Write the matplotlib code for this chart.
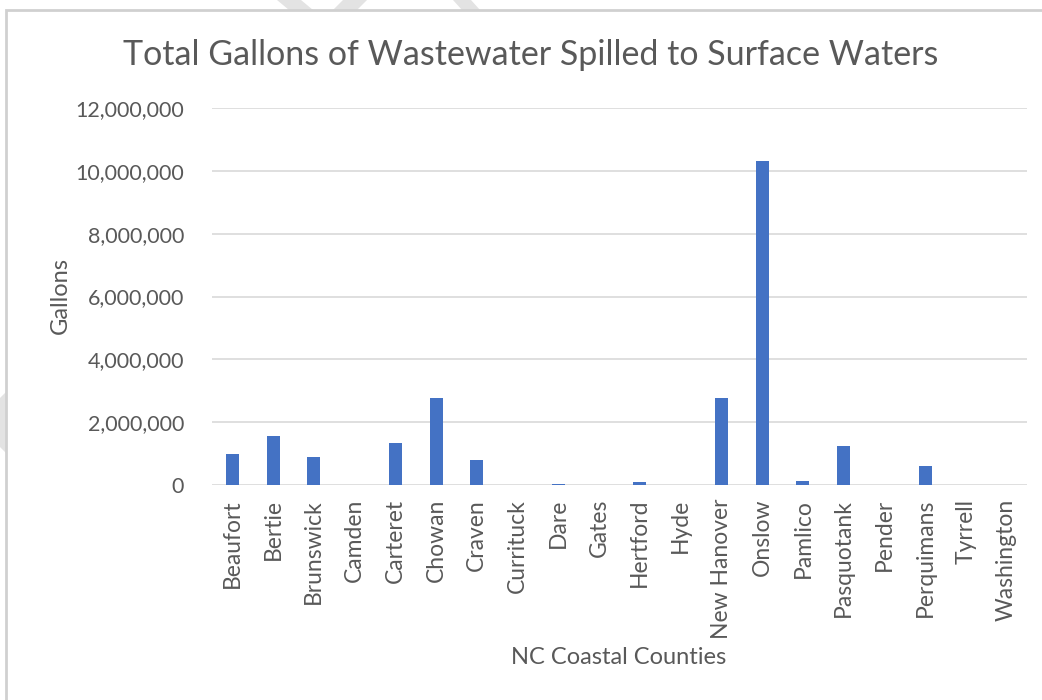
import matplotlib.pyplot as plt
from matplotlib.patches import Rectangle, Polygon
from matplotlib.ticker import FuncFormatter

# Datos (galones por condado)
counties = ["Beaufort", "Bertie", "Brunswick", "Camden", "Carteret", "Chowan",
            "Craven", "Currituck", "Dare", "Gates", "Hertford", "Hyde",
            "New Hanover", "Onslow", "Pamlico", "Pasquotank", "Pender",
            "Perquimans", "Tyrrell", "Washington"]
gallons = [1000000, 1560000, 890000, 0, 1350000, 2760000,
           800000, 0, 40000, 0, 110000, 0,
           2770000, 10300000, 120000, 1230000, 0,
           590000, 0, 8000]

title = "Total Gallons of Wastewater Spilled to Surface Waters"
x_label = "NC Coastal Counties"
y_label = "Gallons"

text_color = "#595959"
grid_color = "#d9d9d9"
bar_color = "#4472C4"

plt.rcParams["font.family"] = ["Lato", "DejaVu Sans"]

W, H = 1042, 700
fig = plt.figure(figsize=(W / 100, H / 100), dpi=100)

# marcas decorativas grises de fondo (fuera del marco)
deco = [
    [(277, 0), (301, 0), (313, 10), (289, 10)],
    [(333, 10), (357, 10), (367, 0), (343, 0)],
    [(453, 0), (471, 0), (480, 10), (462, 10)],
    [(0, 398), (6, 392), (6, 453), (0, 447)],
]
for pts in deco:
    fig.patches.append(Polygon([(x / W, 1 - y / H) for x, y in pts], closed=True,
                               transform=fig.transFigure, facecolor="#e3e3e3",
                               edgecolor="none", zorder=0))

# marco del grafico
fig.patches.append(Rectangle((6 / W, -0.1), 1.2, 1.1 - 10 / H,
                             transform=fig.transFigure, facecolor="white",
                             edgecolor="#d0d0d0", linewidth=2, zorder=0.5))

ax = fig.add_axes([212 / W, 1 - 485 / H, (1027 - 212) / W, (485 - 108) / H])
ax.set_facecolor("none")
ax.set_zorder(2)

x = range(len(counties))
ax.bar(x, gallons, width=0.32, color=bar_color, zorder=3)

ax.set_ylim(0, 12000000)
ax.set_xlim(-0.5, len(counties) - 0.5)
ax.set_yticks(range(0, 12000001, 2000000))
ax.yaxis.set_major_formatter(FuncFormatter(lambda v, p: f"{int(v):,}"))
ax.grid(axis="y", color=grid_color, linewidth=1.2, zorder=0)
ax.set_xticks(list(x))
ax.set_xticklabels(counties, rotation=90)

for s in ax.spines.values():
    s.set_visible(False)
ax.tick_params(axis="both", length=0, colors=text_color)
ax.tick_params(axis="y", pad=20, labelsize=15.5)
ax.tick_params(axis="x", pad=10, labelsize=16.5)

fig.text(531 / W, 1 - 55 / H, title, ha="center", va="center",
         fontsize=24.5, color=text_color)
fig.text(619 / W, 1 - 658 / H, x_label, ha="center", va="center",
         fontsize=17, color=text_color)
fig.text(60 / W, 1 - 296 / H, y_label, ha="center", va="center",
         fontsize=17, color=text_color, rotation=90)

fig.savefig("out.png", dpi=100)
